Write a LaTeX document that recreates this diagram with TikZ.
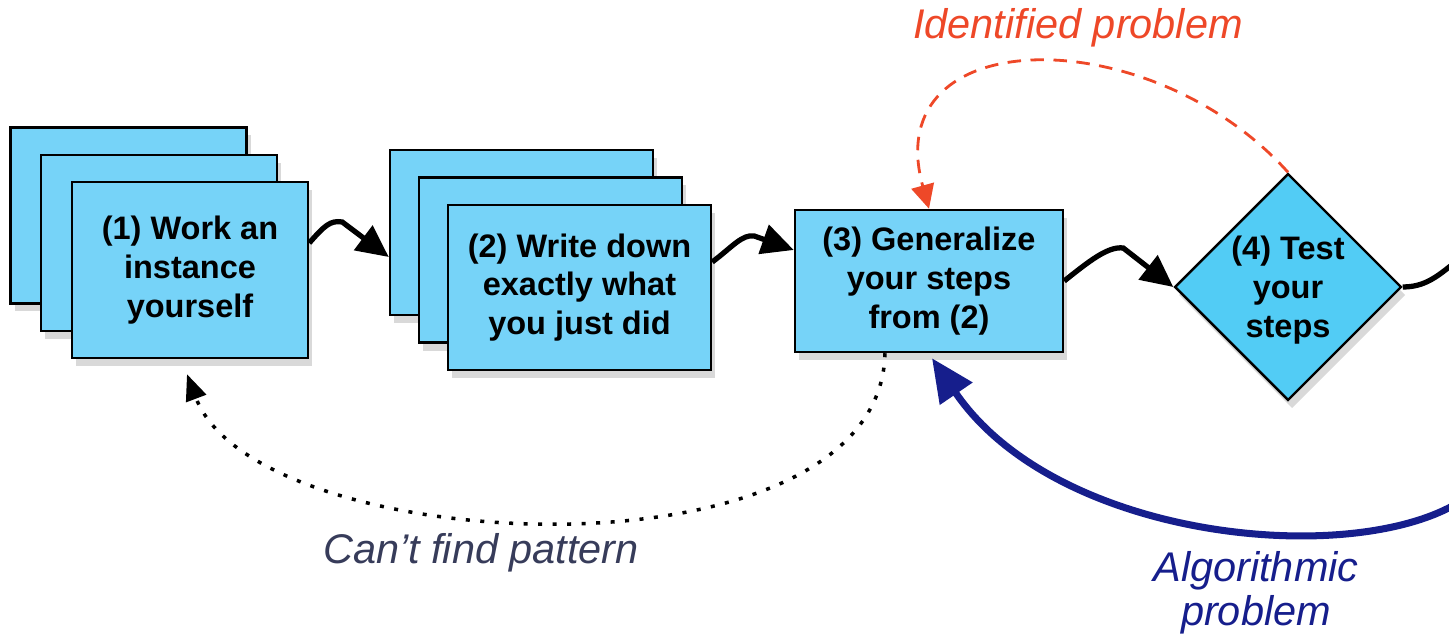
\documentclass[tikz,border=0pt]{standalone}
\usepackage{fontspec}
\setmainfont{Liberation Sans}
\usetikzlibrary{shapes.geometric,shadows,arrows.meta}
\definecolor{boxblue}{RGB}{118,211,248}
\definecolor{testblue}{RGB}{82,204,245}
\definecolor{probred}{RGB}{238,72,40}
\definecolor{algoblue}{RGB}{22,30,140}
\definecolor{patgray}{RGB}{55,60,90}

\begin{document}
\begin{tikzpicture}[
  box/.style={draw=black, line width=0.7pt, fill=boxblue, inner sep=0pt, align=center,
    font=\fontsize{9.25}{11}\selectfont\bfseries,
    drop shadow={shadow xshift=0.4mm, shadow yshift=-0.8mm, opacity=0.3}},
  flow/.style={black, line width=1.5pt, -{Triangle[length=3.2mm, width=3mm]}},
  lab/.style={inner sep=0pt, align=center, font=\fontsize{11.8}{12.6}\selectfont\itshape}
]

\useasboundingbox (0,0) rectangle (14.49,-6.41);

% stack (1)
\node[box, minimum width=2.36cm, minimum height=1.76cm] (work3) at (1.285,-2.155) {};
\node[box, minimum width=2.36cm, minimum height=1.76cm] (work2) at (1.59,-2.43) {};
\node[box, minimum width=2.36cm, minimum height=1.76cm] (work1) at (1.90,-2.70) {(1) Work an\\instance\\yourself};

% stack (2)
\node[box, minimum width=2.63cm, minimum height=1.65cm] (write3) at (5.215,-2.325) {};
\node[box, minimum width=2.63cm, minimum height=1.65cm] (write2) at (5.505,-2.60) {};
\node[box, minimum width=2.63cm, minimum height=1.65cm] (write1) at (5.795,-2.875) {(2) Write down\\exactly what\\you just did};

% (3) and (4)
\node[box, minimum width=2.68cm, minimum height=1.42cm] (gen) at (9.29,-2.81) {(3) Generalize\\your steps\\from (2)};
\node[box, diamond, fill=testblue, minimum width=2.27cm, minimum height=2.27cm,
  label={[font=\fontsize{9.25}{11}\selectfont\bfseries, align=center, yshift=-0.3mm]center:(4) Test\\your\\steps}] (test) at (12.88,-2.87) {};

% main flow
\draw[flow] ([yshift=2.7mm]work1.east) .. controls +(0.15,0.17) and +(-0.12,0.02) .. ++(0.33,0.21) -- ([yshift=-2.45mm]write3.west);
\draw[flow] ([yshift=2.55mm]write1.east) .. controls +(0.2,0.15) and +(-0.12,0.02) .. ++(0.42,0.26) -- ([yshift=3.1mm]gen.west);
\draw[flow] (gen.east) .. controls +(0.25,0.2) and +(-0.15,0.02) .. ++(0.59,0.33) -- (test.west);
\coordinate (exitR) at (14.65,-2.55);
\draw[black, line width=1.5pt] (test.east) to[out=0, in=-145] (exitR);

% feedback
\draw[probred, line width=0.8pt, dash pattern=on 1.35mm off 0.95mm, -{Triangle[length=2.4mm, width=2.3mm]}]
  (test.north) .. controls +(-1.38,1.53) and +(-0.52,1.88) .. (gen.north);
\node[lab, text=probred] (ident) at (10.78,-0.28) {Identified problem};

\draw[black, line width=1pt, dash pattern=on 0.4mm off 1.05mm, -{Triangle[length=2.6mm, width=2.1mm]}]
  ([xshift=-4.4mm]gen.south) .. controls +(-0.05,-2.35) and +(0.7,-1.85) .. ([shift={(-0.03,-0.15)}]work1.south);
\node[lab, text=patgray] (pattern) at (4.81,-5.53) {Can’t find pattern};

\coordinate (algoR) at (15.0,-4.40);
\draw[algoblue, line width=2pt, -{Triangle[length=4.3mm, width=3.8mm]}]
  (algoR) .. controls (15.0,-5.75) and (10.8,-5.75) .. ([shift={(0.03,-0.05)}]gen.south);
\node[lab, text=algoblue] (algo) at (12.56,-5.93) {Algorithmic\\problem};

\end{tikzpicture}
\end{document}
